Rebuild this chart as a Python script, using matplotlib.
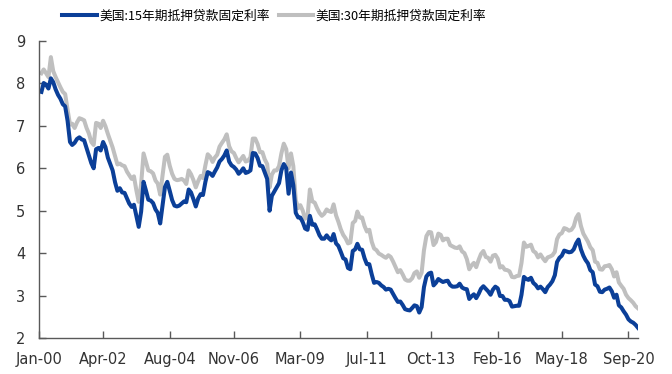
import numpy as np
import pandas as pd
import matplotlib
matplotlib.use("Agg")
import matplotlib.pyplot as plt

# monthly readings, Jan-2000 .. Dec-2020
months = pd.date_range("2000-01-15", periods=252, freq="MS") + pd.Timedelta(days=14)

rate15 = [
    7.80, 8.01, 7.97, 7.88, 8.12, 8.03, 7.86, 7.73, 7.64, 7.51, 7.46, 7.12,  # 2000
    6.62, 6.55, 6.60, 6.69, 6.73, 6.68, 6.66, 6.48, 6.30, 6.12, 6.00, 6.45,  # 2001
    6.48, 6.42, 6.62, 6.50, 6.25, 6.10, 5.95, 5.67, 5.47, 5.53, 5.43, 5.42,  # 2002
    5.29, 5.17, 5.09, 5.14, 4.88, 4.62, 4.98, 5.68, 5.48, 5.26, 5.24, 5.18,  # 2003
    5.03, 4.95, 4.70, 5.13, 5.56, 5.68, 5.47, 5.25, 5.12, 5.10, 5.12, 5.17,  # 2004
    5.22, 5.20, 5.50, 5.43, 5.27, 5.10, 5.29, 5.39, 5.37, 5.68, 5.91, 5.88,  # 2005
    5.82, 5.92, 6.02, 6.16, 6.22, 6.30, 6.42, 6.16, 6.07, 6.03, 5.97, 5.87,  # 2006
    5.93, 6.00, 5.89, 5.91, 5.95, 6.36, 6.35, 6.24, 6.06, 6.05, 5.90, 5.75,  # 2007
    5.00, 5.35, 5.45, 5.55, 5.65, 5.95, 6.10, 6.00, 5.40, 5.90, 5.60, 4.95,  # 2008
    4.84, 4.84, 4.73, 4.58, 4.55, 4.88, 4.67, 4.68, 4.56, 4.42, 4.34, 4.34,  # 2009
    4.42, 4.35, 4.30, 4.45, 4.23, 4.17, 4.03, 3.88, 3.85, 3.65, 3.62, 4.05,  # 2010
    4.09, 4.22, 4.09, 4.08, 3.88, 3.74, 3.74, 3.50, 3.30, 3.32, 3.30, 3.24,  # 2011
    3.20, 3.14, 3.16, 3.14, 3.04, 2.94, 2.85, 2.86, 2.78, 2.68, 2.66, 2.65,  # 2012
    2.71, 2.77, 2.75, 2.60, 2.73, 3.20, 3.45, 3.52, 3.54, 3.24, 3.30, 3.39,  # 2013
    3.35, 3.32, 3.34, 3.35, 3.25, 3.21, 3.21, 3.22, 3.28, 3.19, 3.16, 3.15,  # 2014
    2.92, 2.98, 3.03, 2.94, 3.04, 3.16, 3.22, 3.16, 3.10, 3.02, 3.14, 3.21,  # 2015
    3.17, 2.99, 2.99, 2.90, 2.90, 2.87, 2.74, 2.75, 2.76, 2.76, 3.02, 3.44,  # 2016
    3.39, 3.37, 3.42, 3.30, 3.25, 3.17, 3.21, 3.15, 3.08, 3.20, 3.26, 3.34,  # 2017
    3.48, 3.79, 3.89, 3.94, 4.06, 4.04, 4.02, 4.03, 4.09, 4.23, 4.32, 4.09,  # 2018
    3.94, 3.84, 3.76, 3.60, 3.55, 3.26, 3.22, 3.09, 3.08, 3.14, 3.16, 3.19,  # 2019
    3.10, 2.95, 3.02, 2.77, 2.72, 2.63, 2.55, 2.44, 2.39, 2.36, 2.31, 2.24,  # 2020
]

rate30 = [
    8.24, 8.33, 8.24, 8.15, 8.62, 8.29, 8.15, 8.03, 7.91, 7.80, 7.75, 7.38,  # 2000
    7.03, 7.05, 6.95, 7.08, 7.18, 7.16, 7.13, 6.95, 6.82, 6.62, 6.55, 7.07,  # 2001
    7.05, 6.95, 7.12, 6.99, 6.81, 6.65, 6.49, 6.29, 6.09, 6.11, 6.07, 6.05,  # 2002
    5.92, 5.84, 5.75, 5.81, 5.48, 5.21, 5.63, 6.35, 6.15, 5.95, 5.93, 5.88,  # 2003
    5.71, 5.64, 5.38, 5.83, 6.27, 6.32, 6.06, 5.87, 5.75, 5.72, 5.73, 5.75,  # 2004
    5.71, 5.63, 5.95, 5.86, 5.72, 5.55, 5.70, 5.82, 5.77, 6.07, 6.33, 6.27,  # 2005
    6.15, 6.25, 6.32, 6.51, 6.60, 6.68, 6.80, 6.52, 6.40, 6.36, 6.24, 6.14,  # 2006
    6.22, 6.29, 6.16, 6.18, 6.26, 6.70, 6.70, 6.57, 6.38, 6.38, 6.21, 6.10,  # 2007
    5.55, 5.85, 5.95, 5.95, 6.05, 6.35, 6.58, 6.45, 6.00, 6.35, 6.05, 5.25,  # 2008
    5.06, 5.13, 5.00, 4.81, 4.86, 5.50, 5.22, 5.19, 5.06, 4.95, 4.88, 4.93,  # 2009
    5.03, 4.99, 4.97, 5.15, 4.89, 4.74, 4.56, 4.43, 4.35, 4.23, 4.25, 4.71,  # 2010
    4.76, 4.98, 4.84, 4.84, 4.64, 4.51, 4.55, 4.27, 4.11, 4.07, 3.99, 3.96,  # 2011
    3.92, 3.89, 3.95, 3.91, 3.80, 3.68, 3.55, 3.60, 3.50, 3.38, 3.35, 3.35,  # 2012
    3.41, 3.53, 3.57, 3.42, 3.54, 4.07, 4.40, 4.50, 4.49, 4.19, 4.26, 4.46,  # 2013
    4.43, 4.30, 4.34, 4.34, 4.19, 4.16, 4.13, 4.12, 4.16, 4.04, 4.00, 3.86,  # 2014
    3.62, 3.71, 3.77, 3.67, 3.84, 3.98, 4.05, 3.91, 3.89, 3.80, 3.94, 3.96,  # 2015
    3.87, 3.66, 3.69, 3.61, 3.60, 3.57, 3.44, 3.43, 3.46, 3.47, 3.77, 4.25,  # 2016
    4.15, 4.17, 4.20, 4.05, 4.01, 3.90, 3.97, 3.88, 3.81, 3.90, 3.92, 3.95,  # 2017
    4.03, 4.33, 4.44, 4.47, 4.59, 4.57, 4.53, 4.55, 4.63, 4.83, 4.92, 4.64,  # 2018
    4.46, 4.37, 4.27, 4.14, 4.07, 3.80, 3.77, 3.62, 3.61, 3.69, 3.70, 3.72,  # 2019
    3.62, 3.45, 3.55, 3.31, 3.23, 3.16, 3.02, 2.94, 2.89, 2.83, 2.75, 2.70,  # 2020
]

tick_labels = ["Jan-00", "Apr-02", "Aug-04", "Nov-06", "Mar-09",
               "Jul-11", "Oct-13", "Feb-16", "May-18", "Sep-20"]
series_names = ["美国:15年期抵押贷款固定利率", "美国:30年期抵押贷款固定利率"]

blue = "#0B3F98"
grey = "#BFBFBF"

fig = plt.figure(figsize=(6.72, 3.74), dpi=100)
ax = fig.add_axes([39 / 672, 36 / 374, 599 / 672, 297 / 374])

l30, = ax.plot(months, rate30, color=grey, lw=2.9, solid_joinstyle="round")
l15, = ax.plot(months, rate15, color=blue, lw=2.9, solid_joinstyle="round")

ax.set_xlim(months[0], months[-1])
ax.set_ylim(2, 9)
ax.set_yticks(range(2, 10))

tick_pos = pd.to_datetime(tick_labels, format="%b-%y") + pd.Timedelta(days=14)
ax.set_xticks(tick_pos)
ax.set_xticklabels(tick_labels)

for side in ["top", "right"]:
    ax.spines[side].set_visible(False)
for side in ["left", "bottom"]:
    ax.spines[side].set_color("#595959")
    ax.spines[side].set_linewidth(1)

ax.tick_params(axis="both", direction="in", length=5, width=1, color="#595959",
               labelsize=10.5, labelcolor="#333333")
ax.tick_params(axis="y", pad=10)
ax.tick_params(axis="x", pad=10)

fig.legend([l15, l30], series_names, loc="center left",
           bbox_to_anchor=(62 / 672, 1 - 16 / 374), ncol=2, frameon=False,
           borderpad=0, borderaxespad=0, handlelength=2.7, handletextpad=0.2,
           columnspacing=0.7,
           prop={"family": ["Noto Sans CJK SC", "DejaVu Sans"], "size": 9.2})

fig.savefig("out.png", dpi=100)
